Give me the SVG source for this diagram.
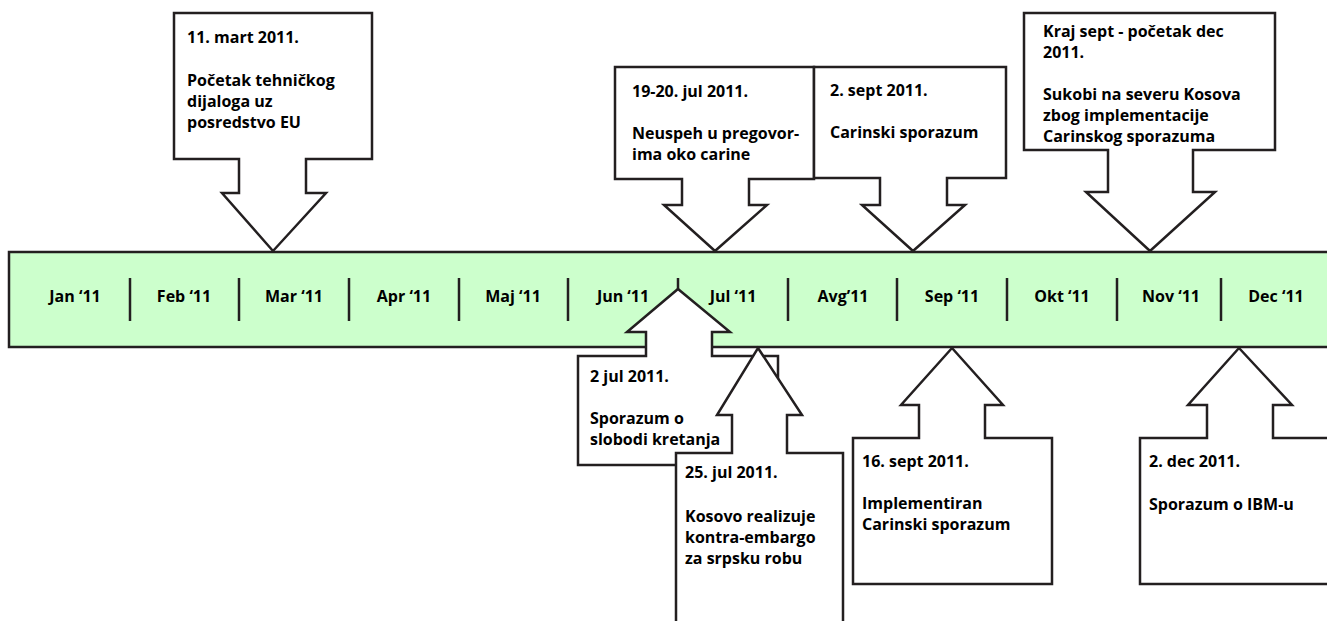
<svg xmlns="http://www.w3.org/2000/svg" width="1327" height="621" viewBox="0 0 1327 621">
<style>
.bg{fill:#ffffff}
.bar{fill:#ccffcc;stroke:#231f20;stroke-width:2.5}
.tick{stroke:#231f20;stroke-width:2.5}
.call{fill:#ffffff;stroke:#231f20;stroke-width:2.5;stroke-linejoin:miter}
.m{font-family:"Open Sans","Liberation Sans",sans-serif;font-weight:700;font-size:16px;fill:#000;text-anchor:middle}
.t{font-family:"Open Sans","Liberation Sans",sans-serif;font-weight:700;font-size:16px;fill:#000}
</style>
<rect class="bg" x="0" y="0" width="1327" height="621"/>
<g id="timeline">
<rect class="bar" x="9" y="252" width="1340" height="95"/>
<g id="ticks">
<line class="tick" x1="130" y1="278" x2="130" y2="321"/>
<line class="tick" x1="239" y1="278" x2="239" y2="321"/>
<line class="tick" x1="349" y1="278" x2="349" y2="321"/>
<line class="tick" x1="459" y1="278" x2="459" y2="321"/>
<line class="tick" x1="568" y1="278" x2="568" y2="321"/>
<line class="tick" x1="678" y1="278" x2="678" y2="321"/>
<line class="tick" x1="788" y1="278" x2="788" y2="321"/>
<line class="tick" x1="897" y1="278" x2="897" y2="321"/>
<line class="tick" x1="1007" y1="278" x2="1007" y2="321"/>
<line class="tick" x1="1117" y1="278" x2="1117" y2="321"/>
<line class="tick" x1="1221" y1="278" x2="1221" y2="321"/>
</g>
<g id="months">
<text class="m" x="75" y="302">Jan ‘11</text>
<text class="m" x="184" y="302">Feb ‘11</text>
<text class="m" x="294" y="302">Mar ‘11</text>
<text class="m" x="404" y="302">Apr ‘11</text>
<text class="m" x="513" y="302">Maj ‘11</text>
<text class="m" x="623" y="302">Jun ‘11</text>
<text class="m" x="733" y="302">Jul ‘11</text>
<text class="m" x="843" y="302">Avg’11</text>
<text class="m" x="952" y="302">Sep ‘11</text>
<text class="m" x="1062" y="302">Okt ‘11</text>
<text class="m" x="1171" y="302">Nov ‘11</text>
<text class="m" x="1276" y="302">Dec ‘11</text>
</g>
</g>
<g id="connectors"></g>
<g id="ev-mar">
<path class="call" d="M174,13 H372 V159 H306 V193 H326 L273,251 L222,193 H239 V159 H174 Z"/>
<text class="t" x="187" y="43">11. mart 2011.</text>
<text class="t" x="187" y="86">Početak tehničkog</text>
<text class="t" x="187" y="107">dijaloga uz</text>
<text class="t" x="187" y="128">posredstvo EU</text>
</g>
<g id="ev-jul19">
<path class="call" d="M615,67 H814 V179 H749 V205 H767 L715,251 L664,205 H682 V179 H615 Z"/>
<text class="t" x="632" y="97">19-20. jul 2011.</text>
<text class="t" x="632" y="139">Neuspeh u pregovor-</text>
<text class="t" x="632" y="160">ima oko carine</text>
</g>
<g id="ev-sep2">
<path class="call" d="M814,67 H1006 V178 H947 V205 H965 L913,251 L862,205 H880 V178 H814 Z"/>
<text class="t" x="830" y="96">2. sept 2011.</text>
<text class="t" x="830" y="138">Carinski sporazum</text>
</g>
<g id="ev-krajsep">
<path class="call" d="M1024,13 H1275 V150 H1193 V192 H1215 L1150,251 L1086,192 H1108 V150 H1024 Z"/>
<text class="t" x="1043" y="37">Kraj sept - početak dec</text>
<text class="t" x="1043" y="58">2011.</text>
<text class="t" x="1043" y="100">Sukobi na severu Kosova</text>
<text class="t" x="1043" y="121">zbog implementacije</text>
<text class="t" x="1043" y="142">Carinskog sporazuma</text>
</g>
<g id="ev-jul2">
<path class="call" d="M678,289 L730,332 H712 V356 H778 V465 H578 V356 H646 V332 H627 Z"/>
<text class="t" x="590" y="382">2 jul 2011.</text>
<text class="t" x="590" y="424">Sporazum o</text>
<text class="t" x="590" y="445">slobodi kretanja</text>
</g>
<g id="ev-jul25">
<path class="call" d="M758,348 L802,415 H787 V453 H843 V640 H676 V453 H732 V415 H717 Z"/>
<text class="t" x="685" y="478">25. jul 2011.</text>
<text class="t" x="685" y="522">Kosovo realizuje</text>
<text class="t" x="685" y="543">kontra-embargo</text>
<text class="t" x="685" y="564">za srpsku robu</text>
</g>
<g id="ev-sep16">
<path class="call" d="M952,348 L1003,405 H985 V438 H1052 V584 H853 V438 H919 V405 H901 Z"/>
<text class="t" x="862" y="467">16. sept 2011.</text>
<text class="t" x="862" y="509">Implementiran</text>
<text class="t" x="862" y="530">Carinski sporazum</text>
</g>
<g id="ev-dec2">
<path class="call" d="M1239,348 L1292,405 H1273 V438 H1345 V584 H1140 V438 H1207 V405 H1188 Z"/>
<text class="t" x="1149" y="467">2. dec 2011.</text>
<text class="t" x="1149" y="510">Sporazum o IBM-u</text>
</g>
</svg>
